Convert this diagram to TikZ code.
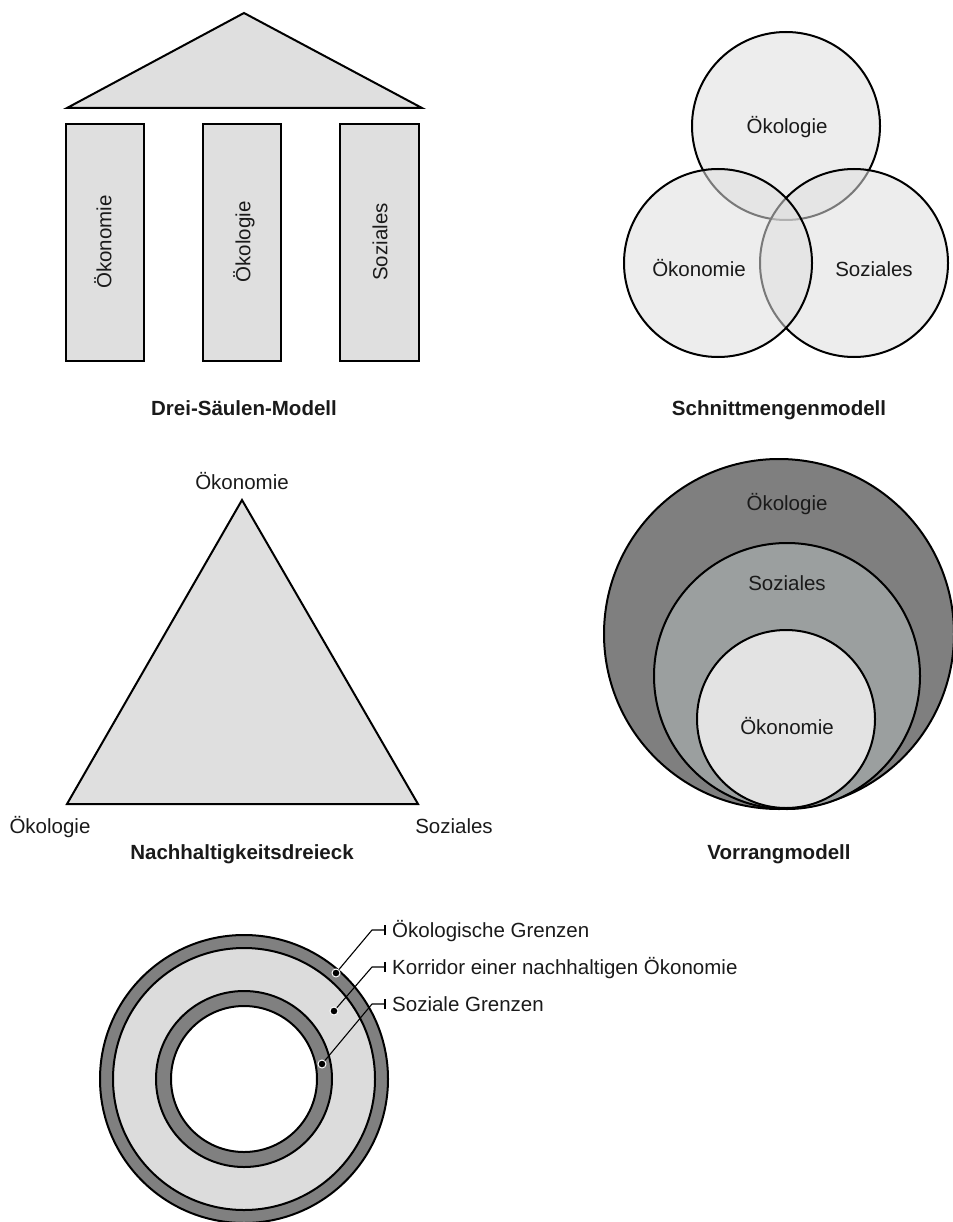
\documentclass[tikz,border=0pt]{standalone}
\usepackage{fontspec}
\setmainfont{Liberation Sans}
\definecolor{panel}{HTML}{DFDFDF}
\definecolor{vennfill}{gray}{0.87}
\definecolor{ecofill}{HTML}{7F7F7F}
\definecolor{socfill}{HTML}{9B9F9F}
\definecolor{econfill}{HTML}{E3E3E3}
\definecolor{ringdark}{HTML}{808080}
\definecolor{ringlight}{HTML}{DCDCDC}
\definecolor{ink}{HTML}{1A1A1A}
\tikzset{
  every node/.style={font=\fontsize{20.5}{24}\selectfont, inner sep=0pt,
                     text height=14.7pt, text depth=0pt, text=ink},
  heading/.style={font=\fontsize{20.5}{24}\selectfont\bfseries},
  outline/.style={draw=black, line width=2pt, line join=miter},
  vennset/.style={draw=black, line width=2pt, fill=vennfill, fill opacity=0.55},
  leader/.style={draw=black, line width=1.1pt},
  pin dot/.style={fill=black, draw=white, line width=1pt},
}
\begin{document}
\begin{tikzpicture}[x=1pt, y=-1pt]
\useasboundingbox (0,0) rectangle (952,1222);

% --- Drei-Saeulen-Modell ---
\path[outline, fill=panel] (67,108) -- (244,13) -- (422,108) -- cycle;
\path[outline, fill=panel] (66,124) rectangle (144,361);
\path[outline, fill=panel] (203,124) rectangle (281,361);
\path[outline, fill=panel] (340,124) rectangle (419,361);
\node[rotate=90] (p1) at (104,242) {Ökonomie};
\node[rotate=90] (p2) at (243,242) {Ökologie};
\node[rotate=90] (p3) at (380,242) {Soziales};
\node[heading] (t1) at (244,408) {Drei-Säulen-Modell};

% --- Schnittmengenmodell ---
\path[vennset] (786,126) circle[radius=94pt];
\path[vennset] (854,263) circle[radius=94pt];
\path[vennset] (718,263) circle[radius=94pt];
\node (v1) at (787,126) {Ökologie};
\node (v2) at (699,269) {Ökonomie};
\node (v3) at (874,269) {Soziales};
\node[heading] (t2) at (779,408) {Schnittmengenmodell};

% --- Nachhaltigkeitsdreieck ---
\path[outline, fill=panel] (67,804) -- (242,500) -- (418,804) -- cycle;
\node (n1) at (242,482) {Ökonomie};
\node (n2) at (50,826) {Ökologie};
\node (n3) at (454,826) {Soziales};
\node[heading] (t3) at (242,852) {Nachhaltigkeitsdreieck};

% --- Vorrangmodell ---
\path[outline, fill=ecofill] (779,634) circle[radius=175pt];
\path[outline, fill=socfill] (787,676) circle[radius=133pt];
\path[outline, fill=econfill] (786,719) circle[radius=89pt];
\node (r1) at (787,503) {Ökologie};
\node (r2) at (787,583) {Soziales};
\node (r3) at (787,727) {Ökonomie};
\node[heading] (t4) at (779,852) {Vorrangmodell};

% --- Korridor-Modell (Ringe) ---
\path[outline, fill=ringdark] (244,1079) circle[radius=144pt];
\path[outline, fill=ringlight] (244,1079) circle[radius=131pt];
\path[outline, fill=ringdark] (244,1079) circle[radius=88pt];
\path[outline, fill=white] (244,1079) circle[radius=73pt];

\coordinate (d1) at (336,973);
\coordinate (d2) at (334,1011);
\coordinate (d3) at (322,1064);
\coordinate (k1) at (372,930);
\coordinate (k2) at (372,967);
\coordinate (k3) at (372,1004);
\coordinate (e1) at (385,930);
\coordinate (e2) at (385,967);
\coordinate (e3) at (385,1004);
\node[anchor=west] (g1) at (392,930) {Ökologische Grenzen};
\node[anchor=west] (g2) at (392,967) {Korridor einer nachhaltigen Ökonomie};
\node[anchor=west] (g3) at (392,1004) {Soziale Grenzen};

\foreach \i in {1,2,3} {
  \draw[leader] (d\i) -- (k\i) -- (e\i);
  \draw[leader] ([yshift=-5pt]e\i) -- ([yshift=5pt]e\i);
  \path[pin dot] (d\i) circle[radius=4pt];
}
\end{tikzpicture}
\end{document}
